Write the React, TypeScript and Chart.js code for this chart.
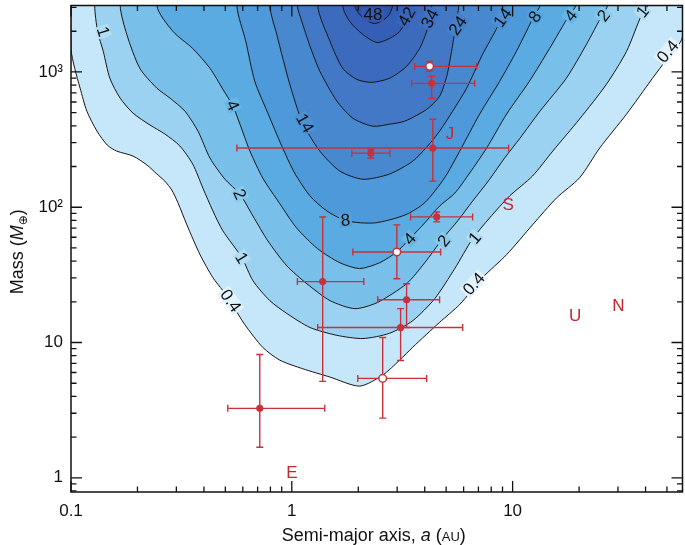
import React, { useEffect, useRef } from "react";
import { Chart, registerables } from "chart.js";

Chart.register(...registerables);

const FONT = '"Liberation Sans", Arial, Helvetica, "DejaVu Sans", sans-serif';
const RED = "#c8313a";

// ---------- axes ----------
const xTickValues = [0.1, 1, 10];
const xTickLabels = ["0.1", "1", "10"];
const xMinorTickValues = [0.2, 0.3, 0.4, 0.5, 0.6, 0.7, 0.8, 0.9, 2, 3, 4, 5, 6, 7, 8, 9, 20, 30, 40, 50];
const yTickValues = [1, 10, 100, 1000];
const yTickLabels = ["1", "10", "10²", "10³"];
const yMinorTickValues = [0.8, 0.9, 2, 3, 4, 5, 6, 7, 8, 9, 20, 30, 40, 50, 60, 70, 80, 90, 200, 300, 400, 500, 600, 700, 800, 900, 2000, 3000];

// ---------- contours: [semi-major axis (AU), mass (Earth masses)] ----------
const contourLevels = ["0.4", "1", "2", "4", "8", "14", "24", "34", "42", "48"];
const contour0_4: [number, number][] = [[0.1, 1490], [0.104, 1060], [0.110, 758], [0.118, 513], [0.131, 366], [0.146, 288], [0.161, 260], [0.191, 239], [0.221, 205], [0.245, 176], [0.266, 156], [0.286, 134], [0.305, 108], [0.335, 74], [0.384, 44.6], [0.439, 30.2], [0.487, 24.2], [0.524, 20.4], [0.612, 13.6], [0.739, 9.2], [0.883, 7.4], [1.12, 6.4], [1.49, 5.55], [2.03, 4.76], [2.58, 5.74], [3.08, 7.41], [3.53, 9.23], [4.67, 14.1], [5.76, 19.1], [7.31, 30.2], [9.39, 44.6], [12.3, 74], [15.8, 117], [20.1, 165], [24.8, 274], [32.8, 488], [43.0, 898], [49.8, 1240], [58.8, 1830]];
const contour1: [number, number][] = [[0.128, 3100], [0.132, 1990], [0.140, 1420], [0.150, 898], [0.167, 640], [0.191, 496], [0.228, 405], [0.266, 348], [0.311, 284], [0.356, 208], [0.396, 138], [0.439, 94], [0.487, 67], [0.594, 42.4], [0.667, 28.6], [0.795, 20.4], [0.949, 16.4], [1.21, 12.9], [1.60, 11.3], [2.10, 10.7], [2.77, 11.7], [3.53, 14.5], [4.44, 21.1], [5.47, 35.2], [6.59, 58.5], [7.87, 83.4], [9.69, 121], [12.3, 170], [15.2, 260], [20.1, 449], [26.6, 811], [32.8, 1420], [38.4, 2655], [40.8, 3100]];
const contour2: [number, number][] = [[0.167, 3100], [0.179, 1890], [0.205, 1064], [0.245, 758], [0.281, 640], [0.328, 513], [0.376, 365], [0.426, 231], [0.498, 161], [0.582, 125], [0.667, 86], [0.779, 56.4], [0.949, 36.9], [1.17, 27.2], [1.49, 20.4], [1.93, 17.8], [2.43, 19.7], [3.31, 27.2], [4.00, 38.9], [4.82, 58.5], [5.64, 79.3], [6.59, 111], [7.87, 161], [9.20, 231], [10.8, 324], [13.3, 513], [17.5, 898], [21.6, 1600], [25.5, 2655], [26.9, 3100]];
const contour4: [number, number][] = [[0.245, 3100], [0.290, 1990], [0.356, 1490], [0.426, 1064], [0.487, 746], [0.541, 560], [0.582, 412], [0.646, 260], [0.739, 164], [0.883, 106], [1.05, 70.4], [1.31, 49.3], [1.65, 38.9], [2.03, 35.2], [2.50, 38.9], [2.99, 46.8], [3.42, 58.5], [4.00, 76.6], [4.67, 102], [5.47, 127], [6.39, 179], [7.63, 274], [9.39, 488], [11.9, 851], [14.7, 1490], [18.1, 2655], [19.3, 3100]];
const contour8: [number, number][] = [[0.564, 3100], [0.619, 1680], [0.680, 851], [0.779, 496], [0.901, 283], [1.03, 179], [1.21, 121], [1.44, 94], [1.77, 79.3], [2.37, 76.6], [3.25, 87.5], [4.00, 108], [4.92, 165], [5.76, 260], [7.09, 488], [8.73, 851], [10.4, 1420], [12.6, 2655], [13.3, 3100]];
const contour14: [number, number][] = [[0.795, 3100], [0.855, 1890], [0.979, 811], [1.12, 419], [1.34, 260], [1.65, 185], [2.10, 161], [2.77, 176], [3.53, 219], [4.12, 283], [4.67, 365], [5.35, 513], [6.19, 758], [7.31, 1350], [8.55, 2170], [9.20, 3100]];
const contour24: [number, number][] = [[1.06, 3100], [1.11, 2360], [1.21, 1545], [1.34, 1012], [1.60, 609], [1.89, 455], [2.33, 397], [2.77, 411], [3.25, 433], [4.08, 529], [4.67, 661], [5.03, 929], [5.29, 1420], [5.52, 2170], [5.70, 3100]];
const contour34: [number, number][] = [[1.31, 3100], [1.49, 1680], [1.70, 1064], [1.97, 881], [2.30, 838], [2.77, 898], [3.31, 1100], [3.79, 1490], [4.08, 1990], [4.21, 2480], [4.30, 3100]];
const contour42: [number, number][] = [[1.70, 3100], [1.83, 2360], [2.10, 1890], [2.43, 1650], [2.77, 1770], [3.08, 1990], [3.31, 2480], [3.42, 3100]];
const contour48: [number, number][] = [[1.93, 3100], [2.07, 2570], [2.37, 2280], [2.72, 2570], [2.86, 3100]];
const contourSets = [contour0_4, contour1, contour2, contour4, contour8, contour14, contour24, contour34, contour42, contour48];
const bandColors = ["#c6e7f9", "#9bd2f1", "#78c0ea", "#5aabe1", "#4d99d9", "#4888cf", "#4278c6", "#3c6bbe", "#355fb6", "#2e55ae"];

// contour labels
const contourLabelTexts = ["48", "42", "34", "24", "14", "8", "4", "2", "1", "0.4", "1", "4", "14", "2", "1", "0.4", "8", "4", "2", "1", "0.4"];
const contourLabelA = [2.33, 3.31, 4.21, 5.64, 9.01, 12.6, 18.3, 25.8, 38.7, 50.3, 0.140, 0.541, 1.15, 0.582, 0.594, 0.530, 1.75, 3.42, 4.87, 6.73, 6.66];
const contourLabelM = [2655, 2570, 2483, 2205, 2525, 2570, 2612, 2612, 2797, 1419, 1991, 567, 419, 125, 42.4, 20.4, 80.5, 58.5, 56.5, 59.4, 27.2];
const contourLabelAngles = [0, -60, -62, -55, -55, -55, -52, -52, -52, -50, 72, 65, 60, 65, 58, 55, -5, -48, -52, -50, -48];

// ---------- observed planets ----------
const obsA = [4.21, 4.30, 2.28, 4.35, 4.53, 2.99, 3.31, 3.11, 1.38, 2.58, 0.716];
const obsM = [1100, 824, 251, 274, 84.8, 46.7, 20.7, 12.9, 28.2, 5.43, 3.26];
const obsALow = [3.60, 3.49, 1.87, 0.564, 3.45, 1.89, 2.45, 1.31, 1.06, 1.99, 0.513];
const obsAHigh = [6.87, 6.73, 2.78, 9.59, 6.59, 4.72, 4.67, 5.94, 2.12, 4.08, 1.41];
const obsMLow = [1010, 639, 231, 156, 77.9, 29.6, 12.9, 7.37, 5.16, 2.76, 1.68];
const obsMHigh = [1195, 929, 268, 447, 92.3, 74.1, 27.2, 17.8, 84.6, 10.9, 8.16];
const obsOpen = [true, false, false, false, false, true, false, false, false, true, false];

// ---------- solar system ----------
const planetNames = ["E", "J", "S", "U", "N"];
const planetA = [1, 5.2, 9.54, 19.2, 30.1];
const planetM = [1, 318, 95.2, 14.5, 17.1];

const FILLED_DS = contourSets.length;

function hexToRgb(h: string) {
  const n = parseInt(h.slice(1), 16);
  return [(n >> 16) & 255, (n >> 8) & 255, n & 255];
}
function mix(a: string, b: string) {
  const A = hexToRgb(a), B = hexToRgb(b);
  return `rgb(${Math.round((A[0] + B[0]) / 2)},${Math.round((A[1] + B[1]) / 2)},${Math.round((A[2] + B[2]) / 2)})`;
}

const decorPlugin = {
  id: "decor",
  beforeDatasetDraw(chart: any, args: any) {
    if (args.index !== FILLED_DS) return;
    const ctx = chart.ctx;
    const xs = chart.scales.x, ys = chart.scales.y;
    const area = chart.chartArea;
    ctx.save();
    ctx.beginPath();
    ctx.rect(area.left, area.top, area.right - area.left, area.bottom - area.top);
    ctx.clip();
    ctx.font = `17px ${FONT}`;
    ctx.textAlign = "center";
    ctx.textBaseline = "middle";
    contourLabelTexts.forEach((t, i) => {
      const x = xs.getPixelForValue(contourLabelA[i]);
      const y = ys.getPixelForValue(contourLabelM[i]);
      const k = contourLevels.indexOf(t);
      const bg = mix(k > 0 ? bandColors[k - 1] : "#ffffff", bandColors[k]);
      ctx.save();
      ctx.translate(x, y);
      ctx.rotate((contourLabelAngles[i] * Math.PI) / 180);
      const w = ctx.measureText(t).width + 3;
      ctx.fillStyle = bg;
      ctx.fillRect(-w / 2, -7, w, 14);
      ctx.fillStyle = "#111";
      ctx.fillText(t, 0, 1);
      ctx.restore();
    });
    // error bars
    const CAP = 3.5;
    ctx.strokeStyle = RED;
    ctx.lineWidth = 1.4;
    obsA.forEach((a, i) => {
      const x = xs.getPixelForValue(a), y = ys.getPixelForValue(obsM[i]);
      const x0 = xs.getPixelForValue(obsALow[i]), x1 = xs.getPixelForValue(obsAHigh[i]);
      const y0 = ys.getPixelForValue(obsMLow[i]), y1 = ys.getPixelForValue(obsMHigh[i]);
      ctx.beginPath();
      ctx.moveTo(x0, y); ctx.lineTo(x1, y);
      ctx.moveTo(x0, y - CAP); ctx.lineTo(x0, y + CAP);
      ctx.moveTo(x1, y - CAP); ctx.lineTo(x1, y + CAP);
      ctx.moveTo(x, y0); ctx.lineTo(x, y1);
      ctx.moveTo(x - CAP, y0); ctx.lineTo(x + CAP, y0);
      ctx.moveTo(x - CAP, y1); ctx.lineTo(x + CAP, y1);
      ctx.stroke();
    });
    ctx.restore();
  },
  afterDatasetsDraw(chart: any) {
    const ctx = chart.ctx;
    const xs = chart.scales.x, ys = chart.scales.y;
    ctx.save();
    ctx.font = `17px ${FONT}`;
    ctx.fillStyle = "#c1272d";
    ctx.textAlign = "center";
    ctx.textBaseline = "alphabetic";
    planetNames.forEach((n, i) => {
      ctx.fillText(n, xs.getPixelForValue(planetA[i]), ys.getPixelForValue(planetM[i]));
    });
    ctx.restore();
  },
  afterDraw(chart: any) {
    const ctx = chart.ctx;
    const xs = chart.scales.x, ys = chart.scales.y;
    const { left, right, top, bottom } = chart.chartArea;
    ctx.save();
    ctx.strokeStyle = "#111";
    ctx.lineWidth = 1.3;
    ctx.beginPath();
    const xt = (v: number, len: number) => {
      const x = xs.getPixelForValue(v);
      ctx.moveTo(x, bottom); ctx.lineTo(x, bottom - len);
      ctx.moveTo(x, top); ctx.lineTo(x, top + len);
    };
    const yt = (v: number, len: number) => {
      const y = ys.getPixelForValue(v);
      ctx.moveTo(left, y); ctx.lineTo(left + len, y);
      ctx.moveTo(right, y); ctx.lineTo(right - len, y);
    };
    xTickValues.forEach((v) => xt(v, 11));
    xMinorTickValues.forEach((v) => xt(v, 5.5));
    yTickValues.forEach((v) => yt(v, 11));
    yMinorTickValues.forEach((v) => yt(v, 5.5));
    ctx.stroke();
    ctx.lineWidth = 1.5;
    ctx.strokeRect(left, top, right - left, bottom - top);

    // x title
    ctx.fillStyle = "#111";
    ctx.textBaseline = "alphabetic";
    ctx.textAlign = "left";
    const xSegs = [
      { t: "Semi-major axis, ", f: `18px ${FONT}`, dy: 0 },
      { t: "a", f: `italic 18px ${FONT}`, dy: 0 },
      { t: " (", f: `18px ${FONT}`, dy: 0 },
      { t: "AU", f: `13px ${FONT}`, dy: 0 },
      { t: ")", f: `18px ${FONT}`, dy: 0 },
    ];
    const drawSegs = (segs: any[], cx: number, base: number) => {
      let w = 0;
      segs.forEach((s) => { ctx.font = s.f; w += ctx.measureText(s.t).width; });
      let x = cx - w / 2;
      segs.forEach((s) => { ctx.font = s.f; ctx.fillText(s.t, x, base + s.dy); x += ctx.measureText(s.t).width; });
    };
    drawSegs(xSegs, (left + right) / 2 - 3, bottom + 49);

    // y title
    ctx.save();
    ctx.translate(23, (top + bottom) / 2 + 3);
    ctx.rotate(-Math.PI / 2);
    const ySegs = [
      { t: "Mass (", f: `18px ${FONT}`, dy: 0 },
      { t: "M", f: `italic 18px ${FONT}`, dy: 0 },
      { t: "⊕", f: `12px ${FONT}`, dy: 4 },
      { t: ")", f: `18px ${FONT}`, dy: 0 },
    ];
    drawSegs(ySegs, 0, 0);
    ctx.restore();
    ctx.restore();
  },
};

export default function App() {
  const ref = useRef<HTMLCanvasElement | null>(null);
  useEffect(() => {
    if (!ref.current) return;
    Chart.defaults.font.family = FONT;
    const contourDatasets = contourSets.map((pts, k) => ({
      label: contourLevels[k],
      data: [
        { x: pts[0][0], y: 1e5 },
        ...pts.map(([a, m]) => ({ x: a, y: m })),
        { x: pts[pts.length - 1][0], y: 1e5 },
      ],
      borderColor: "#161616",
      borderWidth: 1,
      backgroundColor: bandColors[k],
      fill: "shape",
      pointRadius: 0,
      tension: 0.25,
      capBezierPoints: false,
      order: 100 - k,
      showLine: true,
    }));
    const filled = obsA.map((a, i) => ({ x: a, y: obsM[i] })).filter((_, i) => !obsOpen[i]);
    const open = obsA.map((a, i) => ({ x: a, y: obsM[i] })).filter((_, i) => obsOpen[i]);
    const noPad = (s: any) => { s.paddingTop = 0; s.paddingBottom = 0; s.paddingLeft = 0; s.paddingRight = 0; };
    const chart = new Chart(ref.current, {
      type: "line",
      data: {
        datasets: [
          ...contourDatasets,
          { label: "filled", data: filled, showLine: false, pointRadius: 3.6, pointBackgroundColor: RED, pointBorderColor: RED, pointBorderWidth: 0, order: 1 },
          { label: "open", data: open, showLine: false, pointRadius: 3.8, pointBackgroundColor: "#ffffff", pointBorderColor: RED, pointBorderWidth: 1.5, order: 0 },
        ] as any,
      },
      options: {
        animation: false,
        responsive: true,
        maintainAspectRatio: false,
        events: [],
        layout: { padding: { left: 0, right: 2, top: 3, bottom: 0 } },
        plugins: { legend: { display: false }, tooltip: { enabled: false }, title: { display: false } },
        scales: {
          x: {
            type: "logarithmic",
            min: 0.1,
            max: 58.8,
            grid: { display: false, drawTicks: false },
            border: { display: false },
            afterBuildTicks: (s: any) => { s.ticks = xTickValues.map((v) => ({ value: v })); },
            afterFit: (s: any) => { s.height = 53; noPad(s); },
            ticks: {
              autoSkip: false, maxRotation: 0, minRotation: 0, padding: 9, color: "#111",
              font: { size: 17, family: FONT },
              callback: (_v: any, i: number) => xTickLabels[i],
            },
          },
          y: {
            type: "logarithmic",
            min: 0.785,
            max: 3100,
            grid: { display: false, drawTicks: false },
            border: { display: false },
            afterBuildTicks: (s: any) => { s.ticks = yTickValues.map((v) => ({ value: v })); },
            afterFit: (s: any) => { s.width = 71; noPad(s); },
            ticks: {
              autoSkip: false, padding: 8, color: "#111",
              font: { size: 17, family: FONT },
              callback: (_v: any, i: number) => yTickLabels[i],
            },
          },
        },
      } as any,
      plugins: [decorPlugin],
    });
    return () => chart.destroy();
  }, []);
  return (
    <div style={{ position: "absolute", left: 0, top: 0, width: 685, height: 545, overflow: "hidden", background: "#fff" }}>
      <div style={{ position: "absolute", left: 0, top: 0, width: 688, height: 545 }}>
        <canvas ref={ref} />
      </div>
    </div>
  );
}
